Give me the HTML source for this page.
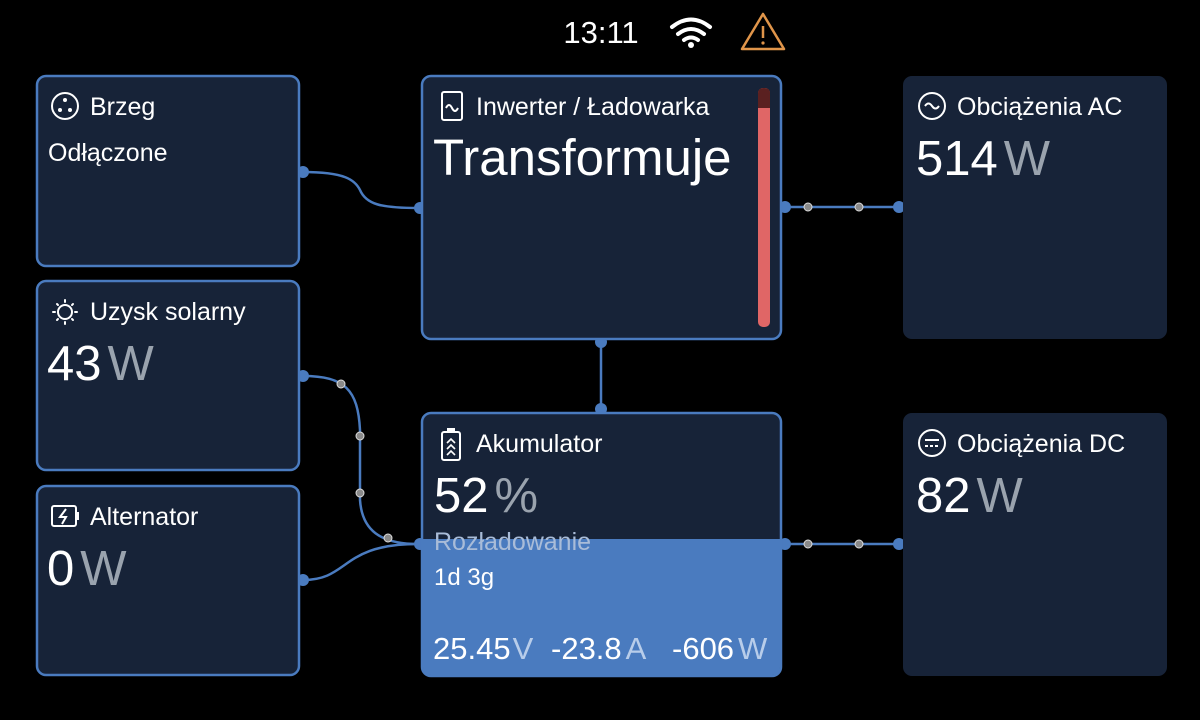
<!DOCTYPE html>
<html><head><meta charset="utf-8"><style>
html,body{margin:0;padding:0;background:#000;}
svg{display:block;font-family:"Liberation Sans","DejaVu Sans",sans-serif;}
</style></head><body>
<svg width="1200" height="720" viewBox="0 0 1200 720" xmlns="http://www.w3.org/2000/svg">
<rect width="1200" height="720" fill="#000"/>
<!-- status bar -->
<text x="601" y="43" fill="#fff" font-size="31" text-anchor="middle">13:11</text>
<g fill="none" stroke="#fff" stroke-width="4" stroke-linecap="round">
<path d="M672 27 Q691 12 710 27"/><path d="M678 34 Q691 24 704 34"/><path d="M684 40 Q691 35 698 40"/>
</g>
<circle cx="691" cy="45" r="3" fill="#fff"/>
<path d="M763 14 L784 49 L742 49 Z" fill="none" stroke="#e0954a" stroke-width="2.5" stroke-linejoin="round"/>
<line x1="763" y1="26" x2="763" y2="38" stroke="#e0954a" stroke-width="2.5"/>
<circle cx="763" cy="43" r="1.6" fill="#e0954a"/>

<!-- connectors -->
<g fill="none" stroke="#4a7bbf" stroke-width="2.5">
<path d="M303 172 C345 172 355 180 360 190 C366 204 380 208 418 208"/>
<path d="M303 376 C345 376 358 390 360 430 L360 500 C362 530 380 544 418 544"/>
<path d="M303 580 C350 580 340 544 418 544"/>
<line x1="601" y1="339" x2="601" y2="410"/>
<line x1="783" y1="207" x2="900" y2="207"/>
<line x1="783" y1="544" x2="900" y2="544"/>
</g>
<g fill="#4a7bbf">
<circle cx="303" cy="172" r="6"/><circle cx="420" cy="208" r="6"/>
<circle cx="303" cy="376" r="6"/><circle cx="303" cy="580" r="6"/><circle cx="420" cy="544" r="6"/>
<circle cx="601" cy="342" r="6"/><circle cx="601" cy="409" r="6"/>
<circle cx="785" cy="207" r="6"/><circle cx="899" cy="207" r="6"/>
<circle cx="785" cy="544" r="6"/><circle cx="899" cy="544" r="6"/>
</g>
<g fill="#8a8a8a" stroke="#ddd" stroke-width="1">
<circle cx="808" cy="207" r="4"/><circle cx="859" cy="207" r="4"/>
<circle cx="808" cy="544" r="4"/><circle cx="859" cy="544" r="4"/>
<circle cx="341" cy="384" r="4"/><circle cx="360" cy="436" r="4"/>
<circle cx="360" cy="493" r="4"/><circle cx="388" cy="538" r="4"/>
</g>

<!-- boxes -->
<g stroke="#4a7bbf" stroke-width="2.5" fill="#172338">
<rect x="37" y="76" width="262" height="190" rx="9"/>
<rect x="37" y="281" width="262" height="189" rx="9"/>
<rect x="37" y="486" width="262" height="189" rx="9"/>
<rect x="422" y="76" width="359" height="263" rx="9"/>
<rect x="422" y="413" width="359" height="263" rx="9"/>
</g>
<path d="M423 539 H780 V667 Q780 675 772 675 H431 Q423 675 423 667 Z" fill="#4a7bbf"/>
<rect x="903" y="76" width="264" height="263" rx="9" fill="#172338"/>
<rect x="903" y="413" width="264" height="263" rx="9" fill="#172338"/>

<!-- red bar -->
<rect x="758" y="88" width="12" height="239" rx="5" fill="#e06666"/>
<path d="M758 108 V93 Q758 88 764 88 Q770 88 770 93 V108 Z" fill="#5a2020"/>

<!-- icons -->
<g fill="none" stroke="#fff" stroke-width="2">
<circle cx="65" cy="106" r="13"/>
<circle cx="65" cy="312" r="7"/>
<rect x="442" y="92" width="20" height="28" rx="2"/>
<rect x="52" y="506" width="24" height="20" rx="2"/>
<rect x="442" y="432" width="18" height="28" rx="2"/>
<circle cx="932" cy="106" r="13"/>
<circle cx="932" cy="443" r="13"/>
</g>
<g fill="#fff"><circle cx="65" cy="100" r="2"/><circle cx="60" cy="110" r="2"/><circle cx="70" cy="110" r="2"/></g>
<g stroke="#fff" stroke-width="2" stroke-linecap="round">
<line x1="65" y1="300" x2="65" y2="302"/><line x1="65" y1="322" x2="65" y2="324"/>
<line x1="53" y1="312" x2="55" y2="312"/><line x1="75" y1="312" x2="77" y2="312"/>
<line x1="57" y1="304" x2="58" y2="305"/><line x1="72" y1="319" x2="73" y2="320"/>
<line x1="73" y1="304" x2="72" y2="305"/><line x1="57" y1="320" x2="58" y2="319"/>
</g>
<path d="M446 108 q3 -6 6 0 t6 0" fill="none" stroke="#fff" stroke-width="2"/>
<path d="M925 106 q3.5 -5 7 0 t7 0" fill="none" stroke="#fff" stroke-width="2"/>
<line x1="925" y1="440" x2="939" y2="440" stroke="#fff" stroke-width="2"/>
<line x1="925" y1="446" x2="939" y2="446" stroke="#fff" stroke-width="2" stroke-dasharray="3 2"/>
<path d="M66 509 L60 517 H66 L62 524" fill="none" stroke="#fff" stroke-width="2"/>
<rect x="76" y="512" width="3" height="8" fill="#fff"/>
<g fill="none" stroke="#fff" stroke-width="1.6"><path d="M447 443 l4 -4 4 4"/><path d="M447 449 l4 -4 4 4"/><path d="M447 455 l4 -4 4 4"/></g>
<rect x="447" y="428" width="8" height="4" fill="#fff"/>

<!-- text -->
<g fill="#fff" font-size="25">
<text x="90" y="115">Brzeg</text>
<text x="48" y="161">Odłączone</text>
<text x="90" y="320">Uzysk solarny</text>
<text x="90" y="525">Alternator</text>
<text x="476" y="115">Inwerter / Ładowarka</text>
<text x="957" y="115">Obciążenia AC</text>
<text x="476" y="452">Akumulator</text>
<text x="957" y="452">Obciążenia DC</text>
<text x="434" y="585" font-size="24">1d 3g</text>
</g>
<text x="434" y="550" fill="#a9bcd8" font-size="25">Rozładowanie</text>
<g font-size="49">
<text x="47" y="380" fill="#fff">43<tspan fill="#9aa3ae" dx="6">W</tspan></text>
<text x="47" y="585" fill="#fff">0<tspan fill="#9aa3ae" dx="6">W</tspan></text>
<text x="916" y="175" fill="#fff">514<tspan fill="#9aa3ae" dx="6">W</tspan></text>
<text x="916" y="512" fill="#fff">82<tspan fill="#9aa3ae" dx="6">W</tspan></text>
<text x="434" y="512" fill="#fff">52<tspan fill="#9aa3ae" dx="6">%</tspan></text>
</g>
<text x="433" y="175" fill="#fff" font-size="51">Transformuje</text>
<g font-size="31" fill="#fff">
<text x="433" y="659">25.45<tspan fill="#b8cdea" dx="2">V</tspan></text>
<text x="551" y="659">-23.8<tspan fill="#b8cdea" dx="4">A</tspan></text>
<text x="672" y="659">-606<tspan fill="#b8cdea" dx="4">W</tspan></text>
</g>
</svg>
</body></html>
